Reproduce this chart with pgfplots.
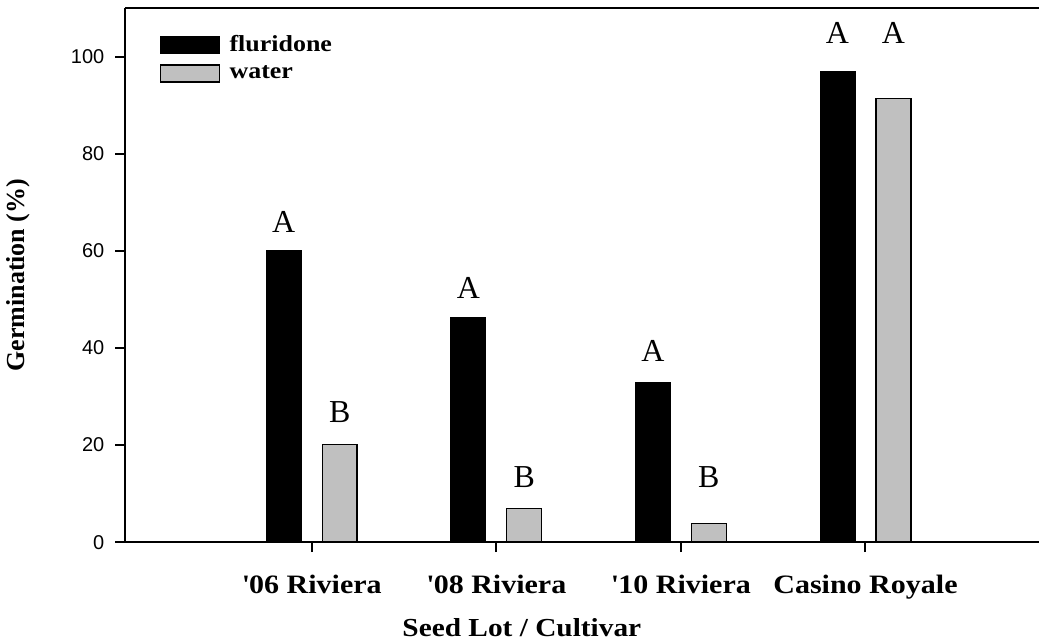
\documentclass[border=0pt]{standalone}
\usepackage{fontspec}
\setmainfont{Liberation Serif}
\newfontfamily\arial{Liberation Sans}
\newfontfamily\wideserif[FakeStretch=1.13]{Liberation Serif}
\usepackage{pgfplots}
\pgfplotsset{compat=1.18}
\definecolor{wgray}{RGB}{192,192,192}
\pgfplotsset{myleg/.style={legend image code/.code={\draw[##1, line width=0.7pt] (0pt,-4.25pt) rectangle (29.5pt,4.25pt);}}}
\begin{document}
\begin{tikzpicture}
\begin{axis}[
  scale only axis, width=457.5pt, height=267.5pt,
  xmin=-0.01, xmax=4.94, ymin=0, ymax=110,
  clip=false,
  axis line style={draw=none},
  tick pos=left, tick align=outside,
  major tick length=5pt,
  tick style={line width=1pt, black},
  xtick={1,2,3,4},
  xticklabels={\textquotesingle 06 Riviera,\textquotesingle 08 Riviera,\textquotesingle 10 Riviera,Casino Royale},
  xticklabel style={font=\fontsize{13.3}{15}\selectfont\wideserif\bfseries, yshift=-8pt},
  ytick={0,20,40,60,80,100},
  /pgf/number format/assume math mode=true,
  yticklabel style={font=\fontsize{10}{12}\selectfont\arial, xshift=-2pt},
  xlabel={Seed Lot / Cultivar},
  every axis x label/.style={at={(rel axis cs:0.434,0)}, yshift=-43pt, anchor=center, font=\fontsize{13}{15}\selectfont\wideserif\bfseries},
  ylabel={Germination (\%)},
  every axis y label/.style={at={(rel axis cs:0,0.5)}, xshift=-53.5pt, rotate=90, anchor=center, font=\fontsize{13}{15}\selectfont\bfseries},
  legend style={at={(rel axis cs:0,1)}, anchor=north west, xshift=17pt, yshift=-12.5pt, draw=none, fill=none, inner sep=0pt, row sep=3.5pt,
    font=\fontsize{11.5}{13}\selectfont\wideserif\bfseries, nodes={inner sep=1pt}},
  legend cell align=left,
]
\addplot[ybar, bar width=17.5pt, bar shift=-14pt, fill=black, draw=black, myleg] coordinates {(1,60.0) (2,46.2) (3,32.9) (4,97.0)};
\addlegendentry{\,\,fluridone}
\addplot[ybar, bar width=17.5pt, bar shift=14pt, fill=wgray, draw=black, line width=0.7pt, myleg] coordinates {(1,20.1) (2,7.0) (3,3.9) (4,91.4)};
\addlegendentry{\,\,water}

\draw[line width=1pt] (rel axis cs:0,1) -- (rel axis cs:1,1);
\draw[line width=1pt] (rel axis cs:0,1) -- (rel axis cs:0,0) -- (rel axis cs:1,0);

\node[font=\fontsize{16}{18}\selectfont, xshift=-14pt] at (axis cs:1,66.0) {A};
\node[font=\fontsize{16}{18}\selectfont, xshift=14pt] at (axis cs:1,26.7) {B};
\node[font=\fontsize{16}{18}\selectfont, xshift=-14pt] at (axis cs:2,52.4) {A};
\node[font=\fontsize{16}{18}\selectfont, xshift=14pt] at (axis cs:2,13.4) {B};
\node[font=\fontsize{16}{18}\selectfont, xshift=-14pt] at (axis cs:3,39.3) {A};
\node[font=\fontsize{16}{18}\selectfont, xshift=14pt] at (axis cs:3,13.4) {B};
\node[font=\fontsize{16}{18}\selectfont, xshift=-14pt] at (axis cs:4,104.8) {A};
\node[font=\fontsize{16}{18}\selectfont, xshift=14pt] at (axis cs:4,104.8) {A};

\coordinate (sw) at (rel axis cs:0,0);
\coordinate (ne) at (rel axis cs:1,1);
\end{axis}
\path (sw) ++(-62.5pt,-47.5pt) coordinate (bb1);
\path (ne) ++(0pt,4pt) coordinate (bb2);
\path (bb1) rectangle (bb2);
\end{tikzpicture}
\end{document}
